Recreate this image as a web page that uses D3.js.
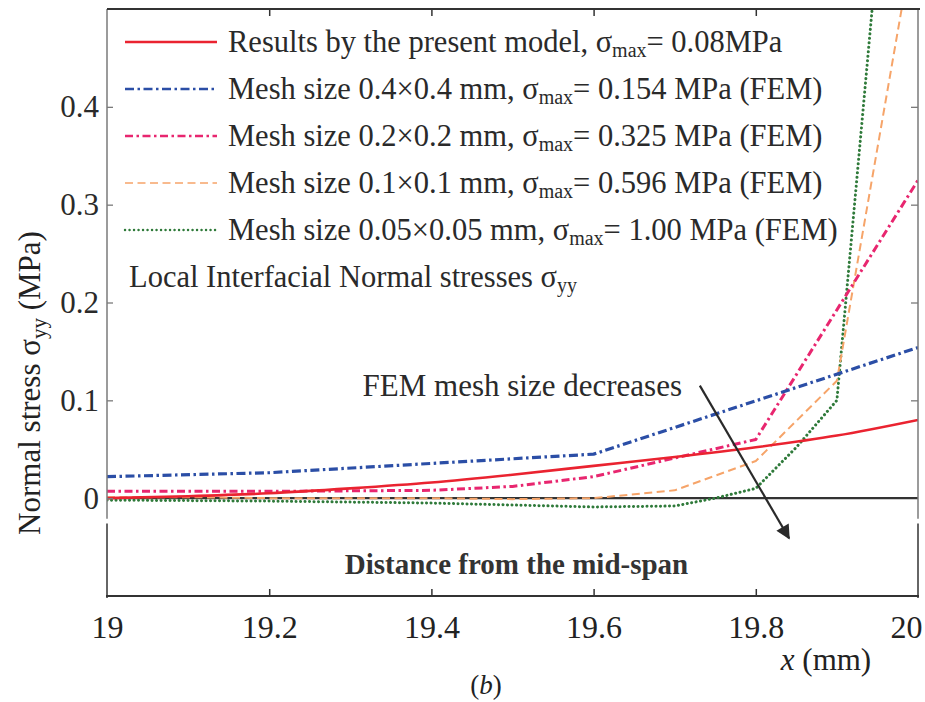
<!DOCTYPE html>
<html>
<head>
<meta charset="utf-8">
<script src="https://cdn.jsdelivr.net/npm/d3@7"></script>
<style>
  html, body { margin: 0; padding: 0; background: #fff; }
  svg { display: block; font-family: "Liberation Serif", "Times New Roman", serif; }
</style>
</head>
<body>
<svg id="chart" width="925" height="702"></svg>
<script>
// Interfacial normal stress near the beam end, x in mm, stress in MPa
const xPresent = [19.0, 19.1, 19.2, 19.3, 19.4, 19.5, 19.6, 19.7, 19.8, 19.9, 20.0];
const yPresent = [0.000, 0.002, 0.005, 0.010, 0.016, 0.024, 0.033, 0.042, 0.052, 0.064, 0.080];

const xMesh04 = [19.0, 19.2, 19.6, 20.0];
const yMesh04 = [0.022, 0.026, 0.045, 0.154];

const xMesh02 = [19.0, 19.2, 19.4, 19.5, 19.6, 19.8, 20.0];
const yMesh02 = [0.007, 0.007, 0.008, 0.012, 0.022, 0.060, 0.325];

const xMesh01 = [19.0, 19.1, 19.2, 19.3, 19.4, 19.5, 19.6, 19.7, 19.8, 19.9, 20.0];
const yMesh01 = [0.001, 0.001, 0.000, 0.000, 0.000, -0.001, 0.000, 0.008, 0.038, 0.120, 0.596];

const xMesh005 = [19.0, 19.2, 19.4, 19.5, 19.6, 19.7, 19.75, 19.8, 19.85, 19.9, 19.95, 20.0];
const yMesh005 = [-0.002, -0.003, -0.005, -0.007, -0.009, -0.008, 0.000, 0.010, 0.052, 0.100, 0.560, 1.000];

const xTicks = [19, 19.2, 19.4, 19.6, 19.8, 20];
const yTicks = [0, 0.1, 0.2, 0.3, 0.4];

const svg = d3.select("#chart");
const frame = { left: 107, right: 918, top: 9, bottom: 596 };

const x = d3.scaleLinear().domain([19, 20]).range([frame.left, frame.right]);
const y = d3.scaleLinear().domain([-0.1, 0.5]).range([frame.bottom, frame.top]);

const styles = {
  present: { color: "#ea2330", width: 2.6, dash: null, cap: "butt" },
  mesh04:  { color: "#2b4ea6", width: 3.2, dash: "9,3.5,2.5,3.5", cap: "butt" },
  mesh02:  { color: "#e8266f", width: 3.0, dash: "8,3.5,2.5,3.5", cap: "butt" },
  mesh01:  { color: "#f6a469", width: 2.0, dash: "8,4.5", cap: "butt" },
  mesh005: { color: "#2f7a3a", width: 3.0, dash: "0.1,4.4", cap: "round" }
};

const data = {
  present: xPresent.map((v, i) => [v, yPresent[i]]),
  mesh04:  xMesh04.map((v, i) => [v, yMesh04[i]]),
  mesh02:  xMesh02.map((v, i) => [v, yMesh02[i]]),
  mesh01:  xMesh01.map((v, i) => [v, yMesh01[i]]),
  mesh005: xMesh005.map((v, i) => [v, yMesh005[i]])
};

const defs = svg.append("defs");
defs.append("clipPath").attr("id", "plotClip")
  .append("rect")
  .attr("x", frame.left).attr("y", frame.top)
  .attr("width", frame.right - frame.left).attr("height", y(-0.02) - frame.top);

// zero reference line
svg.append("line")
  .attr("x1", x(19)).attr("x2", x(20))
  .attr("y1", y(0)).attr("y2", y(0))
  .attr("stroke", "#333").attr("stroke-width", 2.2);

const line = d3.line().x(d => x(d[0])).y(d => y(d[1]));
const smooth = d3.line().x(d => x(d[0])).y(d => y(d[1])).curve(d3.curveMonotoneX);

const plot = svg.append("g").attr("clip-path", "url(#plotClip)");
["mesh005", "mesh01", "mesh02", "mesh04", "present"].forEach(k => {
  const s = styles[k];
  plot.append("path")
    .datum(data[k])
    .attr("d", k === "present" ? smooth : line)
    .attr("fill", "none")
    .attr("stroke", s.color)
    .attr("stroke-width", s.width)
    .attr("stroke-linecap", s.cap)
    .attr("stroke-linejoin", "round")
    .attr("stroke-dasharray", s.dash);
});

// frame and axes
const axisColor = "#7a7a7a";
const yLeft = d3.axisLeft(y).tickValues(yTicks).tickSize(-6).tickPadding(8)
  .tickFormat(d => d === 0 ? "0" : d3.format(".1f")(d));
const gy = svg.append("g").attr("transform", `translate(${frame.left},0)`).call(yLeft);
gy.select(".domain").remove();
gy.selectAll(".tick line").attr("stroke", axisColor).attr("stroke-width", 1.3);
gy.selectAll(".tick text").attr("font-size", 31).attr("fill", "#2a2a2a")
  .attr("font-family", "Liberation Serif");

const yRight = d3.axisRight(y).tickValues(yTicks.slice(1)).tickSize(-7).tickFormat("");
const gyr = svg.append("g").attr("transform", `translate(${frame.right},0)`).call(yRight);
gyr.select(".domain").remove();
gyr.selectAll(".tick line").attr("stroke", axisColor).attr("stroke-width", 1.3);

// side borders, broken just below the data panel
[frame.left, frame.right].forEach(px => {
  svg.append("line").attr("x1", px).attr("x2", px)
    .attr("y1", frame.top).attr("y2", y(-0.021))
    .attr("stroke", axisColor).attr("stroke-width", 1.5);
  svg.append("line").attr("x1", px).attr("x2", px)
    .attr("y1", y(-0.026)).attr("y2", frame.bottom + 2)
    .attr("stroke", "#333").attr("stroke-width", 1.5);
});

const xTop = d3.axisTop(x).tickValues(xTicks.slice(1, -1)).tickSize(-7).tickFormat("");
const gxt = svg.append("g").attr("transform", `translate(0,${frame.top})`).call(xTop);
gxt.select(".domain").remove();
gxt.selectAll(".tick line").attr("stroke", "#333").attr("stroke-width", 1.5);
svg.append("line").attr("x1", frame.left).attr("x2", frame.right + 2)
  .attr("y1", frame.top).attr("y2", frame.top)
  .attr("stroke", "#333").attr("stroke-width", 2.2);

const xBottom = d3.axisBottom(x).tickValues(xTicks).tickSize(-7).tickPadding(19)
  .tickFormat(d => d3.format("~g")(d));
const gx = svg.append("g").attr("transform", `translate(0,${frame.bottom})`).call(xBottom);
gx.select(".domain").remove();
gx.selectAll(".tick line").attr("stroke", "#333").attr("stroke-width", 1.5)
  .filter(d => d === 19 || d === 20).remove();
gx.selectAll(".tick text").attr("font-size", 32).attr("fill", "#222")
  .attr("font-family", "Liberation Serif");
// the last label sits flush with the right edge of the frame
gx.selectAll(".tick text").filter(d => d === 20).attr("text-anchor", "end").attr("dx", 4);
svg.append("line").attr("x1", frame.left - 1).attr("x2", frame.right + 1)
  .attr("y1", frame.bottom).attr("y2", frame.bottom)
  .attr("stroke", "#333").attr("stroke-width", 2.2);

// annotation text inside the frame
svg.append("text")
  .attr("x", (frame.left + frame.right) / 2 + 4).attr("y", y(-0.078))
  .attr("text-anchor", "middle")
  .attr("font-size", 29).attr("font-weight", "bold").attr("fill", "#333")
  .attr("font-family", "Liberation Serif")
  .text("Distance from the mid-span");

svg.append("text")
  .attr("x", x(19.709)).attr("y", y(0.104))
  .attr("text-anchor", "end")
  .attr("font-size", 31).attr("fill", "#2a2a2a")
  .text("FEM mesh size decreases");

// arrow pointing toward finer meshes
const arrowFrom = [19.731, 0.115], arrowTo = [19.841, -0.041];
defs.append("marker")
  .attr("id", "arrowHead").attr("viewBox", "0 0 10 10")
  .attr("refX", 9).attr("refY", 5)
  .attr("markerWidth", 8).attr("markerHeight", 6.5)
  .attr("markerUnits", "strokeWidth")
  .attr("orient", "auto")
  .append("path").attr("d", "M0,0 L10,5 L0,10 z").attr("fill", "#2a2a2a");
svg.append("line")
  .attr("x1", x(arrowFrom[0])).attr("y1", y(arrowFrom[1]))
  .attr("x2", x(arrowTo[0])).attr("y2", y(arrowTo[1]))
  .attr("stroke", "#2a2a2a").attr("stroke-width", 2.2)
  .attr("marker-end", "url(#arrowHead)");

// legend
const legendRows = [
  { key: "present", parts: ["Results by the present model, σ", "max", "= 0.08MPa"] },
  { key: "mesh04",  parts: ["Mesh size 0.4×0.4 mm, σ", "max", "= 0.154 MPa (FEM)"] },
  { key: "mesh02",  parts: ["Mesh size 0.2×0.2 mm, σ", "max", "= 0.325 MPa (FEM)"] },
  { key: "mesh01",  parts: ["Mesh size 0.1×0.1 mm, σ", "max", "= 0.596 MPa (FEM)"] },
  { key: "mesh005", parts: ["Mesh size 0.05×0.05 mm, σ", "max", "= 1.00 MPa (FEM)"] }
];
const legend = svg.append("g").attr("transform", "translate(125,42)");
legendRows.forEach((r, i) => {
  const s = styles[r.key];
  const g = legend.append("g").attr("transform", `translate(0,${i * 47})`);
  g.append("line").attr("x1", 0).attr("x2", 92).attr("y1", 0).attr("y2", 0)
    .attr("stroke", s.color)
    .attr("stroke-width", r.key === "mesh01" ? 1.6 : 2.4)
    .attr("stroke-linecap", s.cap)
    .attr("stroke-dasharray", s.dash);
  const t = g.append("text").attr("x", 103).attr("y", 10)
    .attr("font-size", 30.5).attr("fill", "#2a2a2a");
  t.append("tspan").text(r.parts[0]);
  t.append("tspan").attr("font-size", 20).attr("dy", 5).text(r.parts[1]);
  t.append("tspan").attr("dy", -5).text(r.parts[2]);
});
const note = legend.append("text").attr("x", 4).attr("y", 5 * 47 + 10)
  .attr("font-size", 30.5).attr("fill", "#2a2a2a");
note.append("tspan").text("Local Interfacial Normal stresses σ");
note.append("tspan").attr("font-size", 20).attr("dy", 5).text("yy");

// axis titles
const yTitle = svg.append("text")
  .attr("transform", "translate(40,383) rotate(-90)")
  .attr("text-anchor", "middle")
  .attr("font-size", 31).attr("fill", "#222");
yTitle.append("tspan").text("Normal stress σ");
yTitle.append("tspan").attr("font-size", 21).attr("dy", 6).text("yy");
yTitle.append("tspan").attr("dy", -6).text(" (MPa)");

const xTitle = svg.append("text")
  .attr("x", 826).attr("y", 670)
  .attr("text-anchor", "middle")
  .attr("font-size", 31).attr("fill", "#222");
xTitle.append("tspan").attr("font-style", "italic").text("x");
xTitle.append("tspan").text(" (mm)");

const caption = svg.append("text")
  .attr("x", 486).attr("y", 694)
  .attr("text-anchor", "middle")
  .attr("font-size", 27).attr("fill", "#222");
caption.append("tspan").text("(");
caption.append("tspan").attr("font-style", "italic").text("b");
caption.append("tspan").text(")");
</script>
</body>
</html>
